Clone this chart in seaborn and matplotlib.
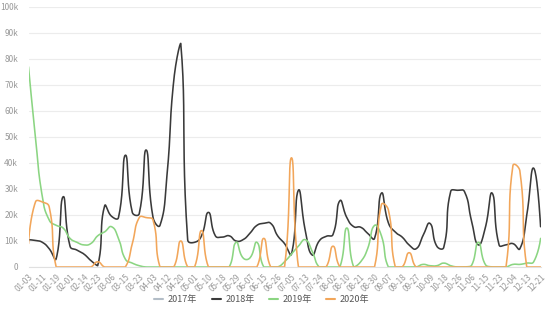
import numpy as np
import pandas as pd
import matplotlib
matplotlib.use("Agg")
import matplotlib.pyplot as plt
from matplotlib.lines import Line2D
import seaborn as sns

# ---------------- data ----------------
dates = [
    "01-03", "01-07", "01-11", "01-15", "01-19", "01-25", "02-01", "02-07", "02-14", "02-18",
    "02-23", "03-01", "03-06", "03-10", "03-15", "03-19", "03-23", "03-29", "04-03", "04-08",
    "04-12", "04-16", "04-20", "04-25", "05-01", "05-05", "05-10", "05-14", "05-18", "05-23",
    "05-29", "06-02", "06-07", "06-11", "06-15", "06-20", "06-26", "07-01", "07-05", "07-09",
    "07-13", "07-18", "07-24", "07-28", "08-02", "08-06", "08-10", "08-15", "08-21", "08-25",
    "08-30", "09-03", "09-07", "09-12", "09-18", "09-22", "09-27", "10-03", "10-09", "10-13",
    "10-18", "10-22", "10-26", "11-01", "11-06", "11-10", "11-15", "11-19", "11-23", "11-28",
    "12-04", "12-08", "12-13", "12-17", "12-21",
]

series_names = ["2017年", "2018年", "2019年", "2020年"]

values_2017 = []  # legend only (no visible data)

values_2018 = [
    10.5, 10.2, 9.5, 7.0, 3.2, 27.0, 8.0, 6.5, 5.0, 2.5,
    0.5, 23.5, 19.5, 19.0, 43.0, 21.0, 20.5, 45.0, 19.0, 16.0,
    35.0, 72.0, 86.0, 10.5, 9.5, 12.0, 21.0, 12.0, 11.5, 12.0,
    10.0, 10.5, 13.0, 16.0, 16.8, 16.8, 12.0, 9.0, 5.0, 29.5,
    14.0, 4.6, 10.0, 11.8, 12.5, 25.5, 19.0, 15.5, 15.3, 13.0,
    11.0, 28.4, 17.0, 13.4, 11.5, 8.5, 7.0, 12.0, 16.8, 8.0,
    7.5, 29.0, 29.5, 29.0, 18.0, 8.5, 15.0, 28.4, 8.5, 8.5,
    9.0, 7.0, 20.0, 38.0, 15.5,
]

values_2019 = [
    77.0, 50.0, 27.0, 18.0, 16.0, 15.0, 11.0, 9.5, 8.5, 9.0,
    12.0, 13.5, 15.5, 11.0, 3.0, 1.5, 0.5, 0, 0, 0,
    0, 0, 0, 0, 0, 0, 0, 0, 0, 0,
    9.5, 3.5, 3.5, 9.5, 0, 0, 0, 2.0, 5.0, 8.0,
    10.5, 6.0, 0, 0, 0, 0, 15.0, 0, 2.0, 7.0,
    16.0, 12.0, 0, 0, 0, 0, 0, 1.0, 0.5, 0.5,
    1.5, 0.5, 0, 0, 0.5, 9.5, 1.0, 0, 0, 0,
    1.0, 1.0, 1.5, 2.0, 11.0,
]

values_2020 = [
    9.0, 25.0, 25.0, 23.0, 0, 0, 0, 0, 0, 0,
    2.0, 0, 0, 0, 0, 9.0, 19.0, 19.0, 18.0, 0,
    0, 0, 10.0, 0, 0, 14.0, 0, 0, 0, 0,
    0, 0, 0, 0, 11.0, 0, 0, 0, 42.0, 0,
    0, 0, 0, 0, 8.0, 0, 0, 0, 0, 0,
    0, 24.0, 22.0, 0, 0, 5.5, 0, 0, 0, 0,
    0, 0, 0, 0, 0, 0, 0, 0, 0, 0,
    39.0, 37.0, 0, 0, 0,
]

colors = ["#b3bdc7", "#3a3a3a", "#8bd582", "#f2a65a"]

# ---------------- smoothing (echarts-like bezier) ----------------
PX = 512.1 / 74.0   # pixels per category
PY = 261.0 / 100.0  # pixels per 1k


def smooth_curve(vals, sm=0.5, steps=24):
    x = np.arange(len(vals)) * PX
    y = np.asarray(vals, dtype=float) * PY
    pts = np.stack([x, y], 1)
    n = len(pts)
    mn, mx = pts.min(0), pts.max(0)
    cps = []
    for i in range(n):
        if i == 0 or i == n - 1:
            cps.append((pts[i], pts[i]))
            continue
        prev, nxt = pts[i - 1], pts[i + 1]
        v = (nxt - prev) * sm
        d0 = np.hypot(*(pts[i] - prev))
        d1 = np.hypot(*(pts[i] - nxt))
        s = d0 + d1
        if s:
            d0 /= s
            d1 /= s
        c0 = np.clip(pts[i] - v * d0, mn, mx)
        c1 = np.clip(pts[i] + v * d1, mn, mx)
        cps.append((c0, c1))
    t = np.linspace(0, 1, steps)[:, None]
    out = []
    for i in range(n - 1):
        p0, p1, p2, p3 = pts[i], cps[i][1], cps[i + 1][0], pts[i + 1]
        seg = (1 - t) ** 3 * p0 + 3 * (1 - t) ** 2 * t * p1 + 3 * (1 - t) * t ** 2 * p2 + t ** 3 * p3
        out.append(seg if i == 0 else seg[1:])
    out = np.vstack(out)
    return out[:, 0] / PX, out[:, 1] / PY


# ---------------- figure ----------------
sns.set_theme(style="white")
plt.rcParams["font.family"] = ["Noto Sans CJK SC", "DejaVu Sans"]

fig = plt.figure(figsize=(5.5, 3.14), dpi=100)
ax = fig.add_axes([28.5 / 550, 1 - 267 / 314, (540.6 - 28.5) / 550, (267 - 7) / 314])

all_values = [values_2017, values_2018, values_2019, values_2020]
for name, vals, col in zip(series_names, all_values, colors):
    if len(vals) == 0:
        continue
    xs, ys = smooth_curve(vals)
    df = pd.DataFrame({"x": xs, "y": ys})
    sns.lineplot(data=df, x="x", y="y", ax=ax, color=col, lw=1.15,
                 sort=False, estimator=None, legend=False)

ax.set_xlim(0, len(dates) - 1)
ax.set_ylim(0, 100)
yt = list(range(0, 101, 10))
ax.set_yticks(yt)
ax.set_yticklabels(["0"] + [f"{v}k" for v in yt[1:]])
ax.set_xticks(range(0, len(dates), 2))
ax.set_xticklabels(dates[::2], rotation=45, ha="right", rotation_mode="anchor")
ax.set_xlabel("")
ax.set_ylabel("")

ax.yaxis.grid(True, color="#ececec", lw=0.8)
ax.xaxis.grid(False)
ax.set_axisbelow(True)
for s in ["top", "right", "left"]:
    ax.spines[s].set_visible(False)
ax.spines["bottom"].set_color("#e0e0e0")
ax.spines["bottom"].set_linewidth(0.8)

ax.tick_params(axis="y", length=0, pad=7.5, labelsize=6, labelcolor="#999999")
ax.tick_params(axis="x", length=0, pad=4, labelsize=5.8, labelcolor="#999999")

handles = [Line2D([0], [0], color=c, lw=1.5) for c in colors]
leg = fig.legend(handles, series_names, loc="center", bbox_to_anchor=(0.476, 0.045),
                 ncol=4, frameon=False, fontsize=6.5, handlelength=1.0,
                 handletextpad=0.5, columnspacing=1.6)
for t in leg.get_texts():
    t.set_color("#555555")

fig.savefig("out.png", dpi=100)
